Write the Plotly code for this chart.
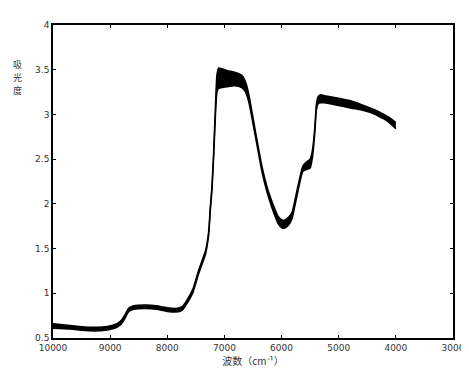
import plotly.graph_objects as go

wavenumber = [10000, 9700, 9350, 9050, 8880, 8800, 8740, 8680, 8590, 8370, 8190, 8020, 7850,
              7740, 7670, 7550, 7450, 7330, 7290, 7270, 7250, 7220, 7190, 7160, 7130, 7100,
              6950, 6810, 6700, 6640, 6600, 6560, 6460, 6340, 6250, 6170, 6060, 5990, 5940,
              5880, 5820, 5720, 5630, 5580, 5540, 5500, 5460, 5420, 5390, 5360, 5320, 5250,
              5000, 4780, 4600, 4440, 4300, 4210, 4100, 4000]
abs_low = [0.61, 0.60, 0.58, 0.59, 0.62, 0.66, 0.72, 0.79, 0.82, 0.83, 0.82, 0.80, 0.79,
           0.81, 0.87, 1.01, 1.22, 1.44, 1.58, 1.69, 1.90, 2.14, 2.50, 2.95, 3.25, 3.29,
           3.31, 3.32, 3.30, 3.26, 3.20, 3.10, 2.76, 2.35, 2.12, 1.96, 1.78, 1.73, 1.73,
           1.76, 1.83, 2.12, 2.36, 2.38, 2.39, 2.40, 2.52, 2.78, 3.05, 3.12, 3.13, 3.13,
           3.10, 3.07, 3.05, 3.02, 2.98, 2.95, 2.90, 2.84]
abs_high = [0.66, 0.64, 0.62, 0.63, 0.66, 0.70, 0.76, 0.83, 0.86, 0.87, 0.86, 0.84, 0.83,
            0.85, 0.91, 1.05, 1.26, 1.48, 1.62, 1.73, 1.94, 2.18, 2.56, 3.05, 3.45, 3.52,
            3.49, 3.47, 3.44, 3.38, 3.30, 3.18, 2.82, 2.41, 2.18, 2.03, 1.86, 1.82, 1.82,
            1.85, 1.90, 2.18, 2.42, 2.46, 2.48, 2.50, 2.60, 2.84, 3.12, 3.20, 3.22, 3.21,
            3.18, 3.15, 3.11, 3.07, 3.03, 3.00, 2.96, 2.91]

x_ticks = [10000, 9000, 8000, 7000, 6000, 5000, 4000, 3000]
x_tick_labels = ["10000", "9000", "8000", "7000", "6000", "5000", "4000", "3000"]
y_ticks = [0.5, 1, 1.5, 2, 2.5, 3, 3.5, 4]
y_tick_labels = ["0.5", "1", "1.5", "2", "2.5", "3", "3.5", "4"]
y_title_chars = ["吸", "光", "度"]

fig = go.Figure()
fig.add_trace(go.Scatter(x=wavenumber, y=abs_low, mode="lines",
                         line=dict(color="black", width=1.5, shape="spline", smoothing=0.5),
                         showlegend=False))
fig.add_trace(go.Scatter(x=wavenumber, y=abs_high, mode="lines", fill="tonexty",
                         fillcolor="black",
                         line=dict(color="black", width=1.5, shape="spline", smoothing=0.5),
                         showlegend=False))

axis_common = dict(showline=True, linecolor="black", linewidth=1.5, mirror="ticks",
                   ticks="inside", ticklen=3, tickcolor="black", showgrid=False,
                   zeroline=False, tickfont=dict(family="DejaVu Sans", size=9, color="#333"))

annotations = []
for i, ch in enumerate(y_title_chars):
    annotations.append(dict(text=ch, x=-0.09, y=0.875 - i * 0.042, xref="paper", yref="paper",
                            xanchor="center", yanchor="middle", showarrow=False,
                            font=dict(family="Noto Sans CJK SC", size=9, color="#333")))

fig.update_layout(
    width=469, height=368,
    margin=dict(l=45, r=19, t=12, b=36),
    paper_bgcolor="white", plot_bgcolor="white",
    xaxis=dict(range=[10000, 3000], tickvals=x_ticks, ticktext=x_tick_labels,
               title=dict(text="波数（cm⁻¹）", standoff=4,
                          font=dict(family="Noto Sans CJK SC", size=10, color="#333")),
               **axis_common),
    yaxis=dict(range=[0.5, 4], tickvals=y_ticks, ticktext=y_tick_labels, **axis_common),
    annotations=annotations,
)

fig.write_html("out.html")
